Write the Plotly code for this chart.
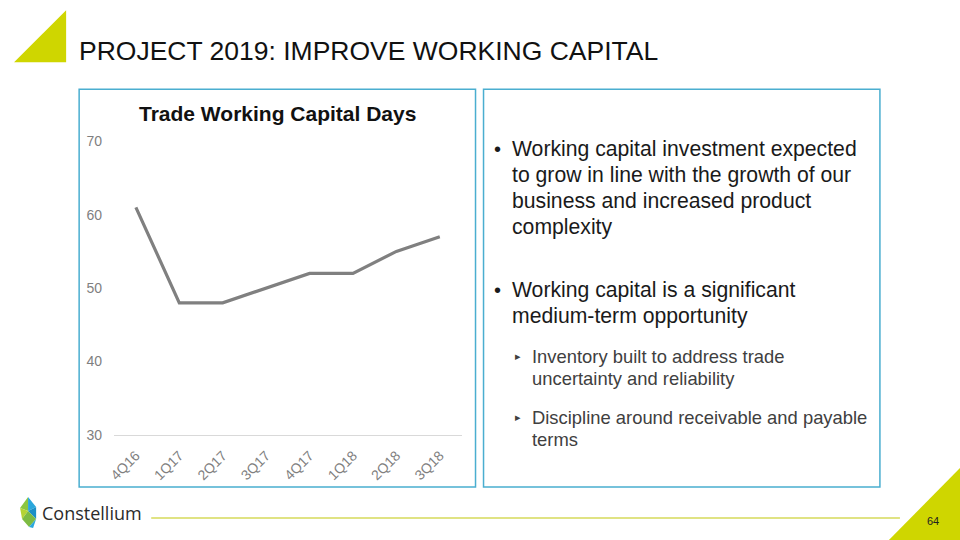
import plotly.graph_objects as go

# ---- data ----
quarters = ["4Q16", "1Q17", "2Q17", "3Q17", "4Q17", "1Q18", "2Q18", "3Q18"]
wc_days = [61, 48, 48, 50, 52, 52, 55, 57]
y_ticks = [30, 40, 50, 60, 70]

title_text = "PROJECT 2019: IMPROVE WORKING CAPITAL"
chart_title = "Trade Working Capital Days"
bullet1 = ["Working capital investment expected",
           "to grow in line with the growth of our",
           "business and increased product",
           "complexity"]
bullet2 = ["Working capital is a significant",
           "medium-term opportunity"]
sub1 = ["Inventory built to address trade",
        "uncertainty and reliability"]
sub2 = ["Discipline around receivable and payable",
        "terms"]

# page keeps an 8px body margin and the capture is slightly rescaled;
# layout positions below are given in final-picture pixels and mapped here.
OFF = 8
SX, SY = 960 / 968, 540 / 556
W, H = 960, 548
FONT = "Arial, 'Liberation Sans', sans-serif"
LIME = "#cfd600"
BLUE_BOX = "#4aaed0"


def px(x):
    return (x / SX - OFF) / W


def py(y):
    return 1 - (y / SY - OFF) / H


fig = go.Figure()
fig.add_trace(go.Scatter(
    x=quarters, y=wc_days, mode="lines",
    line=dict(color="#808080", width=3.2),
    hoverinfo="x+y", showlegend=False,
))

shapes = []
annotations = []

# boxes
shapes.append(dict(type="rect", xref="paper", yref="paper",
                   x0=px(80), x1=px(476), y0=py(487), y1=py(89),
                   line=dict(color=BLUE_BOX, width=1.5), fillcolor="rgba(0,0,0,0)"))
shapes.append(dict(type="rect", xref="paper", yref="paper",
                   x0=px(484), x1=px(880), y0=py(487), y1=py(89),
                   line=dict(color=BLUE_BOX, width=1.5), fillcolor="rgba(0,0,0,0)"))

# top-left triangle
shapes.append(dict(type="path", xref="paper", yref="paper",
                   path=f"M {px(15)},{py(62)} L {px(67)},{py(10)} L {px(67)},{py(62)} Z",
                   fillcolor=LIME, line=dict(width=0)))
# bottom-right triangle
shapes.append(dict(type="path", xref="paper", yref="paper",
                   path=f"M {px(888)},{py(541)} L {px(961)},{py(467)} L {px(961)},{py(541)} Z",
                   fillcolor=LIME, line=dict(width=0)))
# footer line
shapes.append(dict(type="line", xref="paper", yref="paper",
                   x0=px(152), x1=px(900), y0=py(518), y1=py(518),
                   line=dict(color="#d6da5a", width=1.5)))

# logo icon
def poly(pts, color):
    d = "M " + " L ".join(f"{px(a)},{py(b)}" for a, b in pts) + " Z"
    shapes.append(dict(type="path", xref="paper", yref="paper", path=d,
                       fillcolor=color, line=dict(width=0)))

poly([(29, 497), (21, 508), (29, 511)], "#8cc63f")
poly([(29, 497), (37, 507), (29, 511)], "#2aa7dc")
poly([(21, 508), (29, 511), (23, 519)], "#b5d334")
poly([(29, 511), (37, 507), (37, 519)], "#1b8fc6")
poly([(23, 519), (29, 511), (37, 519), (30, 527)], "#7dbb42")
poly([(30, 527), (37, 519), (34, 528)], "#2aa7dc")

annotations.append(dict(text="Constellium", xref="paper", yref="paper",
                        x=px(41), y=py(513), xanchor="left", yanchor="middle",
                        showarrow=False,
                        font=dict(family="'Open Sans', 'Noto Sans', sans-serif", size=18, color="#2b2b2b")))
annotations.append(dict(text="64", xref="paper", yref="paper",
                        x=px(933), y=py(521), xanchor="center", yanchor="middle",
                        showarrow=False, font=dict(family=FONT, size=11, color="#222222")))

# slide title
annotations.append(dict(text=title_text, xref="paper", yref="paper",
                        x=px(78), y=py(51), xanchor="left", yanchor="middle",
                        showarrow=False, font=dict(family=FONT, size=26.5, color="#111111")))
# chart title
annotations.append(dict(text=f"<b>{chart_title}</b>", xref="paper", yref="paper",
                        x=px(278), y=py(113), xanchor="center", yanchor="middle",
                        showarrow=False, font=dict(family=FONT, size=21, color="#111111")))

# bullets
def lines(texts, ys, x, size, color):
    for t, yy in zip(texts, ys):
        annotations.append(dict(text=t, xref="paper", yref="paper",
                                x=px(x), y=py(yy), xanchor="left", yanchor="middle",
                                showarrow=False, font=dict(family=FONT, size=size, color=color)))

def marker(sym, x, yy, size, color):
    annotations.append(dict(text=sym, xref="paper", yref="paper",
                            x=px(x), y=py(yy), xanchor="center", yanchor="middle",
                            showarrow=False, font=dict(family=FONT, size=size, color=color)))

marker("•", 498, 149, 20, "#1a1a1a")
lines(bullet1, [149, 175, 201, 227], 510, 21.2, "#1a1a1a")
marker("•", 498, 290, 20, "#1a1a1a")
lines(bullet2, [290, 316], 510, 21.2, "#1a1a1a")
marker("▸", 518, 356, 11, "#404040")
lines(sub1, [356, 378], 530, 18.4, "#404040")
marker("▸", 518, 417, 11, "#404040")
lines(sub2, [417, 439], 530, 18.4, "#404040")

fig.update_layout(
    width=W, height=H,
    margin=dict(l=0, r=0, t=0, b=0),
    paper_bgcolor="white", plot_bgcolor="white",
    shapes=shapes, annotations=annotations,
    showlegend=False,
    xaxis=dict(domain=[px(115), px(462)], range=[-0.5, 7.5],
               type="category", showgrid=False, zeroline=False,
               showline=True, linecolor="#d9d9d9", linewidth=1,
               tickangle=-45, ticks="", ticklabelstandoff=6,
               tickfont=dict(family=FONT, size=14, color="#7f7f7f")),
    yaxis=dict(domain=[py(435), py(141)], range=[30, 70],
               tickvals=y_ticks, showgrid=False, zeroline=False,
               showline=False, ticks="", ticklabelstandoff=11,
               tickfont=dict(family=FONT, size=14, color="#7f7f7f")),
)

fig.write_html("out.html")
